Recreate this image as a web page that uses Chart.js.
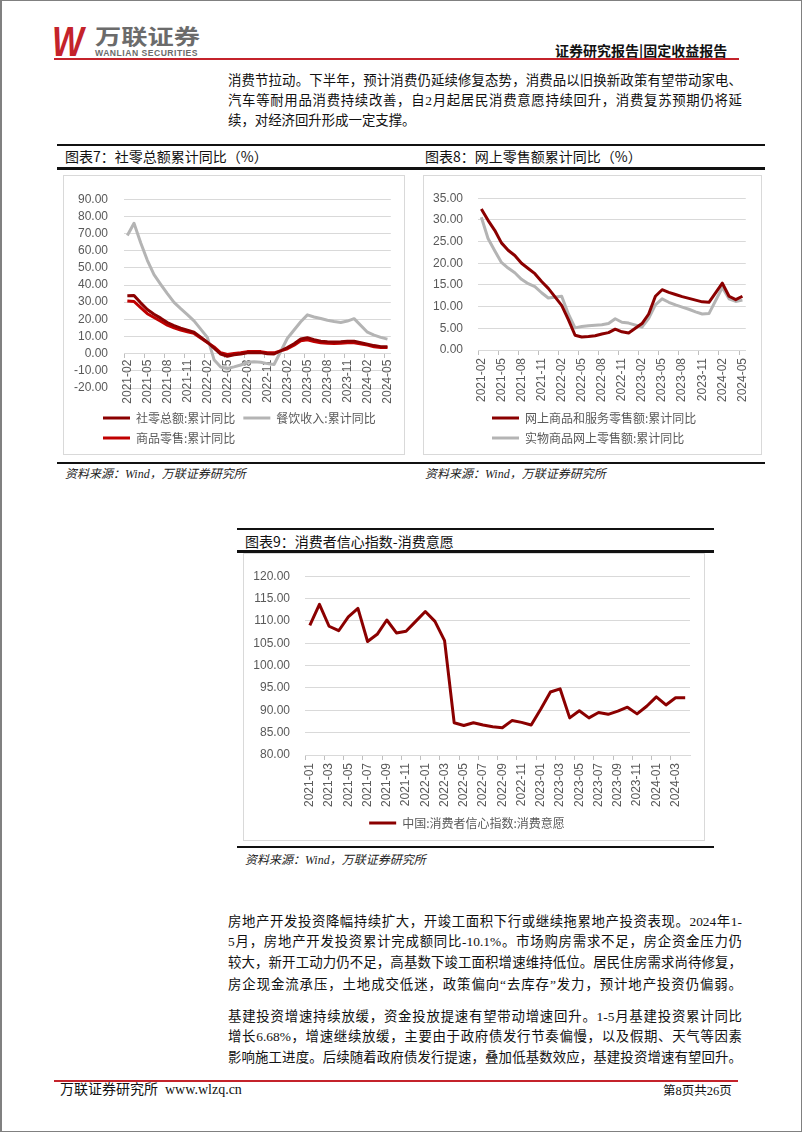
<!DOCTYPE html>
<html lang="zh-CN">
<head>
<meta charset="utf-8">
<title>万联证券 固定收益报告 第8页</title>
<script src="https://cdn.jsdelivr.net/npm/chart.js@4.4.1/dist/chart.umd.min.js"></script>
<style>
  html, body { margin: 0; padding: 0; background: #fff; }
  .page { position: relative; width: 802px; height: 1132px; overflow: hidden;
          font-family: 'Liberation Serif', 'Noto Sans CJK SC', serif; color: #111; }
  .frame { position: absolute; left: 0; top: 0; width: 802px; height: 1132px; box-sizing: border-box;
           border: 1px solid #808080; border-left-width: 2px; pointer-events: none; }
  .abs { position: absolute; white-space: nowrap; }
  .logo-w { left: 52px; top: 21px; font: italic bold 42px/42px 'Liberation Sans', sans-serif; color: #c4232b;
            transform: scaleX(0.8); transform-origin: left top; letter-spacing: -2px; }
  .logo-cn { left: 95px; top: 25px; font: bold 21px/21px 'Noto Sans CJK SC', sans-serif; color: #6b6b6b;
             transform: scaleX(1.25); transform-origin: left top; }
  .logo-en { left: 95px; top: 49px; font: bold 8.6px/9px 'Liberation Sans', sans-serif; color: #6b6b6b; letter-spacing: 0.5px; }
  .head-right { left: 555px; top: 40px; font: bold 14px 'Noto Sans CJK SC', sans-serif; color: #111; }
  .red-line { height: 2px; background: #c4232b; }
  .ln { left: 228px; width: 514px; height: 20px; line-height: 20px; font-size: 13.4px;
        text-align: justify; text-align-last: justify; }
  .ln.last { text-align-last: left; }
  .rule { background: #111; }
  .cap { font: 14px 'Noto Sans CJK SC', sans-serif; color: #111; line-height: 20px; }
  .src { font: italic 12px 'Liberation Serif', 'Noto Sans CJK SC', serif; color: #222; line-height: 16px; }
  .box { position: absolute; box-sizing: border-box; border: 1px solid #d9d9d9; background: #fff; }
  .foot-l { left: 60px; top: 1081px; font-size: 14px; line-height: 18px; }
  .foot-r { left: 663px; top: 1082px; font-size: 12.5px; line-height: 18px; }
</style>
</head>
<body>
<div class="page">
  <!-- header -->
  <div class="abs logo-w">W</div>
  <div class="abs logo-cn">万联证券</div>
  <div class="abs logo-en">WANLIAN SECURITIES</div>
  <div class="abs head-right">证券研究报告|固定收益报告</div>
  <div class="abs red-line" style="left:54px;top:58px;width:685px;"></div>

  <div class="abs ln" style="top:71px;">消费节拉动。下半年，预计消费仍延续修复态势，消费品以旧换新政策有望带动家电、</div>
  <div class="abs ln" style="top:91px;">汽车等耐用品消费持续改善，自2月起居民消费意愿持续回升，消费复苏预期仍将延</div>
  <div class="abs ln last" style="top:111px;">续，对经济回升形成一定支撑。</div>

  <!-- 图表7 / 图表8 -->
  <div class="abs rule" style="left:57px;top:144px;width:708px;height:2px;"></div>
  <div class="abs cap" style="left:65px;top:146px;">图表7：社零总额累计同比（%）</div>
  <div class="abs cap" style="left:425px;top:146px;">图表8：网上零售额累计同比（%）</div>
  <div class="abs rule" style="left:57px;top:167px;width:708px;height:3px;"></div>
  <div class="box" style="left:63px;top:175px;width:342px;height:280px;"><canvas id="chart7"></canvas></div>
  <div class="box" style="left:423px;top:175px;width:339px;height:280px;"><canvas id="chart8"></canvas></div>
  <div class="abs rule" style="left:57px;top:462px;width:708px;height:2px;"></div>
  <div class="abs src" style="left:65px;top:466px;">资料来源：Wind，万联证券研究所</div>
  <div class="abs src" style="left:425px;top:466px;">资料来源：Wind，万联证券研究所</div>

  <!-- 图表9 -->
  <div class="abs rule" style="left:237px;top:528px;width:477px;height:2px;"></div>
  <div class="abs cap" style="left:245px;top:531px;">图表9：消费者信心指数-消费意愿</div>
  <div class="abs rule" style="left:237px;top:550px;width:477px;height:3px;"></div>
  <div class="box" style="left:243px;top:553px;width:462px;height:288px;"><canvas id="chart9"></canvas></div>
  <div class="abs rule" style="left:237px;top:846px;width:477px;height:2px;"></div>
  <div class="abs src" style="left:245px;top:852px;">资料来源：Wind，万联证券研究所</div>

  <div class="abs ln" style="top:912px;">房地产开发投资降幅持续扩大，开竣工面积下行或继续拖累地产投资表现。2024年1-</div>
  <div class="abs ln" style="top:932px;">5月，房地产开发投资累计完成额同比-10.1%。市场购房需求不足，房企资金压力仍</div>
  <div class="abs ln" style="top:953px;">较大，新开工动力仍不足，高基数下竣工面积增速维持低位。居民住房需求尚待修复，</div>
  <div class="abs ln" style="top:975px;">房企现金流承压，土地成交低迷，政策偏向“去库存”发力，预计地产投资仍偏弱。</div>

  <div class="abs ln" style="top:1007px;">基建投资增速持续放缓，资金投放提速有望带动增速回升。1-5月基建投资累计同比</div>
  <div class="abs ln" style="top:1027px;">增长6.68%，增速继续放缓，主要由于政府债发行节奏偏慢，以及假期、天气等因素</div>
  <div class="abs ln" style="top:1048px;">影响施工进度。后续随着政府债发行提速，叠加低基数效应，基建投资增速有望回升。</div>

  <!-- footer -->
  <div class="abs red-line" style="left:54px;top:1080px;width:684px;"></div>
  <div class="abs foot-l">万联证券研究所&nbsp;&nbsp;www.wlzq.cn</div>
  <div class="abs foot-r">第8页共26页</div>

  <div class="frame"></div>
</div>

<script>
// ============ DATA ============
// 图表7 / 图表8 share the monthly axis (Jan has no cumulative print -> null, line bridges it)
const MONTHS_RETAIL = [
    '2021-02', '2021-03', '2021-04', '2021-05', '2021-06', '2021-07', '2021-08', '2021-09', '2021-10', '2021-11', '2021-12',
    '2022-01', '2022-02', '2022-03', '2022-04', '2022-05', '2022-06', '2022-07', '2022-08', '2022-09', '2022-10', '2022-11', '2022-12',
    '2023-01', '2023-02', '2023-03', '2023-04', '2023-05', '2023-06', '2023-07', '2023-08', '2023-09', '2023-10', '2023-11', '2023-12',
    '2024-01', '2024-02', '2024-03', '2024-04', '2024-05'
];

// 社零总额:累计同比
const RETAIL_TOTAL = [
    33.8, 33.9, 29.6, 25.7, 23.0, 20.7, 18.1, 16.4, 14.9, 13.7, 12.5,
    null, 6.7, 3.3, -0.2, -1.5, -0.7, -0.2, 0.5, 0.7, 0.6, -0.1, -0.2,
    null, 3.5, 5.8, 8.5, 9.3, 8.2, 7.3, 7.0, 6.8, 6.9, 7.2, 7.2,
    null, 5.5, 4.7, 4.1, 4.1
];
// 餐饮收入:累计同比
const RETAIL_CATERING = [
    68.8, 76.0, 64.6, 54.4, 46.0, 40.4, 35.0, 29.9, 26.2, 22.8, 19.1,
    null, 9.5, -3.5, -7.8, -8.6, -7.7, -6.6, -5.0, -4.7, -5.0, -5.8, -6.3,
    null, 9.0, 13.8, 18.6, 22.6, 21.4, 20.5, 19.5, 18.7, 18.2, 19.0, 20.4,
    null, 12.5, 10.8, 9.5, 8.5
];
// 商品零售:累计同比
const RETAIL_GOODS = [
    30.7, 30.4, 26.8, 23.3, 21.1, 18.9, 16.6, 15.0, 13.7, 12.8, 11.8,
    null, 6.5, 3.9, 0.5, -0.5, 0.1, 0.5, 1.2, 1.3, 1.2, 0.5, 0.5,
    null, 2.9, 4.9, 7.5, 8.1, 7.1, 6.4, 6.1, 5.9, 6.0, 6.3, 6.4,
    null, 5.0, 4.0, 3.6, 3.6
];

// 网上商品和服务零售额:累计同比
const ONLINE_TOTAL = [
    32.5, 29.9, 27.6, 24.7, 23.0, 21.8, 20.0, 18.8, 17.6, 15.8, 14.2,
    null, 10.3, 7.0, 3.4, 3.0, 3.1, 3.3, 3.7, 4.0, 4.8, 4.2, 3.9,
    null, 6.1, 8.3, 12.4, 13.9, 13.3, 12.8, 12.3, 11.9, 11.5, 11.1, 11.0,
    null, 15.4, 12.4, 11.6, 12.4
];
// 实物商品网上零售额:累计同比
const ONLINE_PHYSICAL = [
    30.6, 25.7, 22.9, 20.2, 18.9, 17.8, 16.3, 15.3, 14.6, 13.2, 12.0,
    null, 12.4, 8.3, 5.1, 5.4, 5.6, 5.7, 5.8, 6.1, 7.2, 6.4, 6.2,
    null, 5.3, 7.3, 10.4, 11.8, 11.0, 10.4, 9.9, 9.4, 8.8, 8.3, 8.4,
    null, 14.4, 11.8, 11.2, 11.5
];

// 图表9: 中国:消费者信心指数:消费意愿
const MONTHS_CONFIDENCE = [
    '2021-01', '2021-02', '2021-03', '2021-04', '2021-05', '2021-06', '2021-07', '2021-08', '2021-09', '2021-10', '2021-11', '2021-12',
    '2022-01', '2022-02', '2022-03', '2022-04', '2022-05', '2022-06', '2022-07', '2022-08', '2022-09', '2022-10', '2022-11', '2022-12',
    '2023-01', '2023-02', '2023-03', '2023-04', '2023-05', '2023-06', '2023-07', '2023-08', '2023-09', '2023-10', '2023-11', '2023-12',
    '2024-01', '2024-02', '2024-03', '2024-04'
];
const CONSUME_WILLINGNESS = [
    109.0, 113.7, 108.8, 107.8, 110.9, 112.8, 105.4, 107.0, 110.2, 107.3, 107.7, 109.9,
    112.1, 109.9, 105.6, 87.2, 86.6, 87.2, 86.7, 86.3, 86.1, 87.7, 87.3, 86.7,
    90.3, 94.1, 94.8, 88.3, 89.9, 88.3, 89.5, 89.1, 89.8, 90.7, 89.2, 90.9,
    93.0, 91.2, 92.8, 92.8
];

// y-axis ranges (tick labels are formatted with two decimals)
const Y7 = { min: -20, max: 90, step: 10 };
const Y8 = { min: 0, max: 35, step: 5 };
const Y9 = { min: 80, max: 120, step: 5 };

const DARK_RED = '#8B0000';
const RED = '#C00000';
const GRAY = '#B4B4B4';
const GRID = '#D9D9D9';
const LABEL = '#595959';

Chart.defaults.font.family = "'Liberation Sans', 'Noto Sans CJK SC', sans-serif";
Chart.defaults.font.size = 12;
Chart.defaults.color = LABEL;

// Excel legends are left-aligned as a block: shift the legend box so rows start at a fixed x.
const legendStart = {
    id: 'legendStart',
    afterLayout(chart, args, opts) {
        if (opts.x == null || !chart.legend) return;
        chart.legend.left = opts.x - chart.legend.options.labels.padding;
    }
};

// Excel-style line chart: x axis sits on a y value, tick marks between categories,
// labels rotated 90 deg, legend below with a blank title used as spacer.
function buildLineChart(canvasId, labels, series, cfg) {
    const every = cfg.every;
    return new Chart(document.getElementById(canvasId), {
        type: 'line',
        data: {
            labels,
            datasets: series.map(s => ({
                label: s.label,
                data: s.data,
                borderColor: s.color,
                backgroundColor: s.color,
                borderWidth: 3,
                pointRadius: 0,
                pointHoverRadius: 0,
                tension: 0,
                spanGaps: true,
                borderJoinStyle: 'round',
                fill: false
            }))
        },
        plugins: [legendStart],
        options: {
            responsive: true,
            maintainAspectRatio: false,
            animation: false,
            layout: { padding: { top: cfg.padTop, right: cfg.padRight, bottom: cfg.padBottom, left: 0 } },
            plugins: {
                tooltip: { enabled: false },
                legendStart: { x: cfg.legendX },
                legend: {
                    position: 'bottom',
                    align: cfg.legendX == null ? 'center' : 'start',
                    title: { display: true, text: ' ', font: { size: 10, lineHeight: 1 }, padding: { top: cfg.legendGap - 10, bottom: 0 } },
                    labels: {
                        usePointStyle: true,
                        pointStyle: 'line',
                        pointStyleWidth: 27,
                        padding: 8,
                        color: LABEL,
                        font: { size: 12, family: "'Noto Sans CJK SC', sans-serif" }
                    }
                }
            },
            scales: {
                x: {
                    position: { y: cfg.axisAt },
                    offset: true,
                    grid: {
                        offset: true,
                        drawOnChartArea: false,
                        tickLength: 4,
                        color: c => (c.index % every === 0 ? '#BFBFBF' : 'rgba(0,0,0,0)')
                    },
                    border: { display: true, color: GRID },
                    ticks: {
                        autoSkip: false,
                        minRotation: 90,
                        maxRotation: 90,
                        padding: cfg.xPad,
                        color: LABEL,
                        callback: (v, i) => (i % every === 0 ? labels[i] : '')
                    }
                },
                y: {
                    min: cfg.y.min,
                    max: cfg.y.max,
                    afterFit: axis => { axis.width = cfg.yWidth; },
                    grid: { color: GRID, drawTicks: false },
                    border: { display: false },
                    ticks: { stepSize: cfg.y.step, padding: cfg.yPad, color: LABEL, callback: v => Number(v).toFixed(2) }
                }
            }
        }
    });
}

buildLineChart('chart7', MONTHS_RETAIL, [
    { label: '社零总额:累计同比', data: RETAIL_TOTAL, color: DARK_RED },
    { label: '餐饮收入:累计同比', data: RETAIL_CATERING, color: GRAY },
    { label: '商品零售:累计同比', data: RETAIL_GOODS, color: RED }
], { every: 3, y: Y7, axisAt: 0, padTop: 15, padRight: 12, padBottom: 0, yWidth: 60, yPad: 16, xPad: 2, legendGap: 16, legendX: 39 });

buildLineChart('chart8', MONTHS_RETAIL, [
    { label: '网上商品和服务零售额:累计同比', data: ONLINE_TOTAL, color: DARK_RED },
    { label: '实物商品网上零售额:累计同比', data: ONLINE_PHYSICAL, color: GRAY }
], { every: 3, y: Y8, axisAt: 0, padTop: 15, padRight: 14, padBottom: 0, yWidth: 54, yPad: 15, xPad: 4, legendGap: 54, legendX: 68 });

buildLineChart('chart9', MONTHS_CONFIDENCE, [
    { label: '中国:消费者信心指数:消费意愿', data: CONSUME_WILLINGNESS, color: DARK_RED }
], { every: 2, y: Y9, axisAt: 80, padTop: 16, padRight: 14, padBottom: 1, yWidth: 61, yPad: 15, xPad: 4, legendGap: 54 });
</script>
</body>
</html>
